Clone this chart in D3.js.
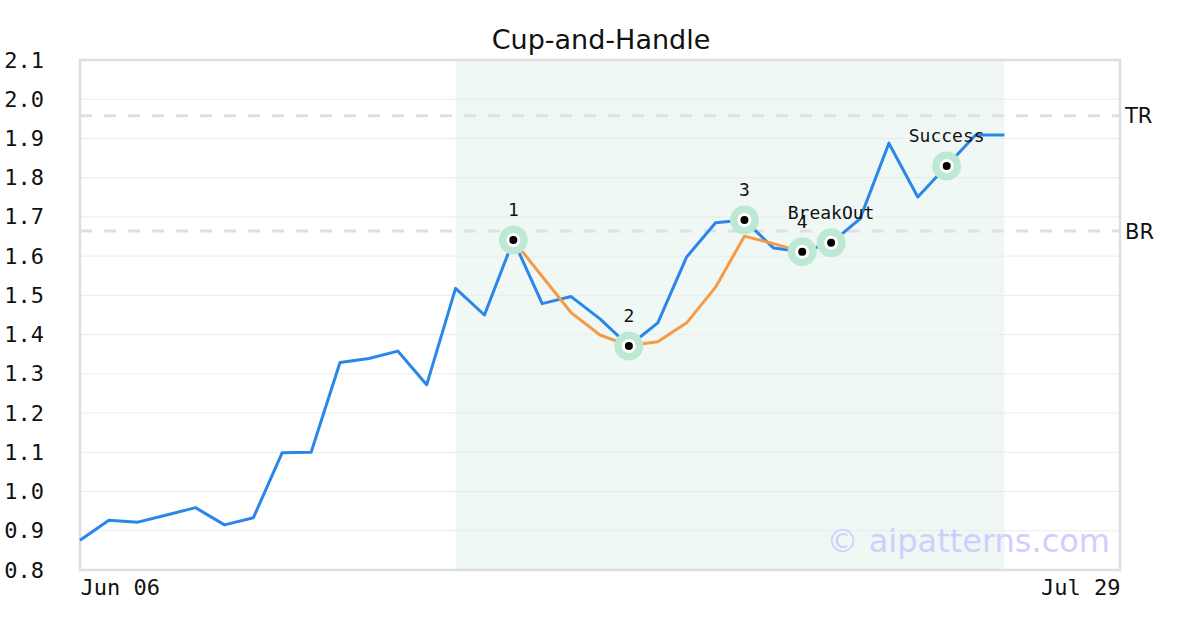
<!DOCTYPE html>
<html>
<head>
<meta charset="utf-8">
<script src="https://cdn.jsdelivr.net/npm/d3@7"></script>
<style>
  html, body { margin: 0; padding: 0; background: #ffffff; }
  svg { display: block; }
</style>
</head>
<body>
<svg id="chart" width="1200" height="630"></svg>
<script>
// ---- data ----
const title = "Cup-and-Handle";
const xTickLabels = ["Jun 06", "Jul 29"];
const xTickIndex = [0, 36];
const xSlots = 36;
const priceValues = [0.876, 0.927, 0.922, 0.940, 0.959, 0.915, 0.933, 1.099, 1.100, 1.329,
  1.339, 1.358, 1.272, 1.518, 1.450, 1.641, 1.479, 1.497, 1.440, 1.371,
  1.430, 1.598, 1.685, 1.692, 1.621, 1.611, 1.634, 1.695, 1.888, 1.751,
  1.830, 1.909, 1.909];
const cupStart = 15;
const cupValues = [1.641, 1.548, 1.456, 1.399, 1.372, 1.382, 1.430, 1.521, 1.651, 1.632, 1.611];
const markerIndex = [15, 19, 23, 25, 26, 30];
const markerLabels = ["1", "2", "3", "4", "BreakOut", "Success"];
const levelValues = [1.958, 1.664];
const levelLabels = ["TR", "BR"];
const shadeRange = [13, 32];
const yTicks = [0.8, 0.9, 1.0, 1.1, 1.2, 1.3, 1.4, 1.5, 1.6, 1.7, 1.8, 1.9, 2.0, 2.1];
const yDomain = [0.8, 2.1];
const watermark = "© aipatterns.com";

// ---- layout ----
const svg = d3.select("#chart");
const L = 80, R = 1120, T = 60, B = 570;
const x = d3.scaleLinear().domain([0, xSlots]).range([L, R]);
const y = d3.scaleLinear().domain(yDomain).range([B, T]);
const mono = "'DejaVu Sans Mono', monospace";
const sans = "'DejaVu Sans', sans-serif";

// shaded pattern region
svg.append("rect")
  .attr("x", x(shadeRange[0])).attr("y", T)
  .attr("width", x(shadeRange[1]) - x(shadeRange[0])).attr("height", B - T)
  .attr("fill", "#f0f8f5");

// grid
svg.append("g").selectAll("line").data(yTicks).join("line")
  .attr("x1", L).attr("x2", R)
  .attr("y1", d => y(d)).attr("y2", d => y(d))
  .attr("stroke", "#ebebeb").attr("stroke-width", 1);

// level lines
svg.append("g").selectAll("line").data(levelValues).join("line")
  .attr("x1", L).attr("x2", R)
  .attr("y1", d => y(d)).attr("y2", d => y(d))
  .attr("stroke", "#e0e0e0").attr("stroke-width", 3)
  .attr("stroke-dasharray", "12,12");
svg.append("g").selectAll("text").data(levelValues).join("text")
  .attr("x", R + 5).attr("y", d => y(d))
  .attr("dy", "0.36em")
  .attr("font-family", sans).attr("font-size", 21).attr("fill", "#111")
  .text((d, i) => levelLabels[i]);

// frame
svg.append("rect")
  .attr("x", L).attr("y", T).attr("width", R - L).attr("height", B - T)
  .attr("fill", "none").attr("stroke", "#dedede").attr("stroke-width", 2.5);

// y axis labels
const yAxis = d3.axisLeft(y).tickValues(yTicks).tickFormat(d3.format(".1f")).tickSize(0).tickPadding(0);
const yg = svg.append("g").attr("transform", "translate(44,0)").call(yAxis);
yg.select(".domain").remove();
yg.selectAll("text").attr("font-family", mono).attr("font-size", 22).attr("fill", "#111")
  .attr("text-anchor", "end");

// x axis labels
const xAxis = d3.axisBottom(x).tickValues(xTickIndex)
  .tickFormat((d, i) => xTickLabels[i]).tickSize(0).tickPadding(0);
const xg = svg.append("g").attr("transform", `translate(0,${B})`).call(xAxis);
xg.select(".domain").remove();
xg.selectAll("text").attr("font-family", mono).attr("font-size", 22).attr("fill", "#111")
  .attr("dy", null).attr("y", 25)
  .attr("text-anchor", (d, i) => i === 0 ? "start" : "end");

// watermark
svg.append("text")
  .attr("x", 1110).attr("y", 552)
  .attr("text-anchor", "end")
  .attr("font-family", sans).attr("font-size", 32)
  .attr("fill", "#cfcffb")
  .text(watermark);

// price line
const line = d3.line().x(d => x(d[0])).y(d => y(d[1]));
svg.append("path")
  .datum(priceValues.map((v, i) => [i, v]))
  .attr("d", line).attr("fill", "none")
  .attr("stroke", "#2a86e8").attr("stroke-width", 3).attr("stroke-linejoin", "round");

// cup line
svg.append("path")
  .datum(cupValues.map((v, i) => [cupStart + i, v]))
  .attr("d", line).attr("fill", "none")
  .attr("stroke", "#f59a45").attr("stroke-width", 3).attr("stroke-linejoin", "round");

// markers
const mg = svg.append("g").selectAll("g").data(markerIndex).join("g")
  .attr("transform", d => `translate(${x(d)},${y(priceValues[d])})`);
mg.append("circle").attr("r", 14.5).attr("fill", "#bde9d4");
mg.append("circle").attr("r", 7).attr("fill", "#ffffff");
mg.append("circle").attr("r", 4).attr("fill", "#000000");

// marker labels
svg.append("g").selectAll("text").data(markerIndex).join("text")
  .attr("x", d => x(d)).attr("y", d => y(priceValues[d]) - 24)
  .attr("text-anchor", "middle")
  .attr("font-family", mono).attr("font-size", 18).attr("fill", "#111")
  .text((d, i) => markerLabels[i]);

// title
svg.append("text")
  .attr("x", 601).attr("y", 49)
  .attr("text-anchor", "middle")
  .attr("font-family", sans).attr("font-size", 27).attr("fill", "#111")
  .text(title);
</script>
</body>
</html>
